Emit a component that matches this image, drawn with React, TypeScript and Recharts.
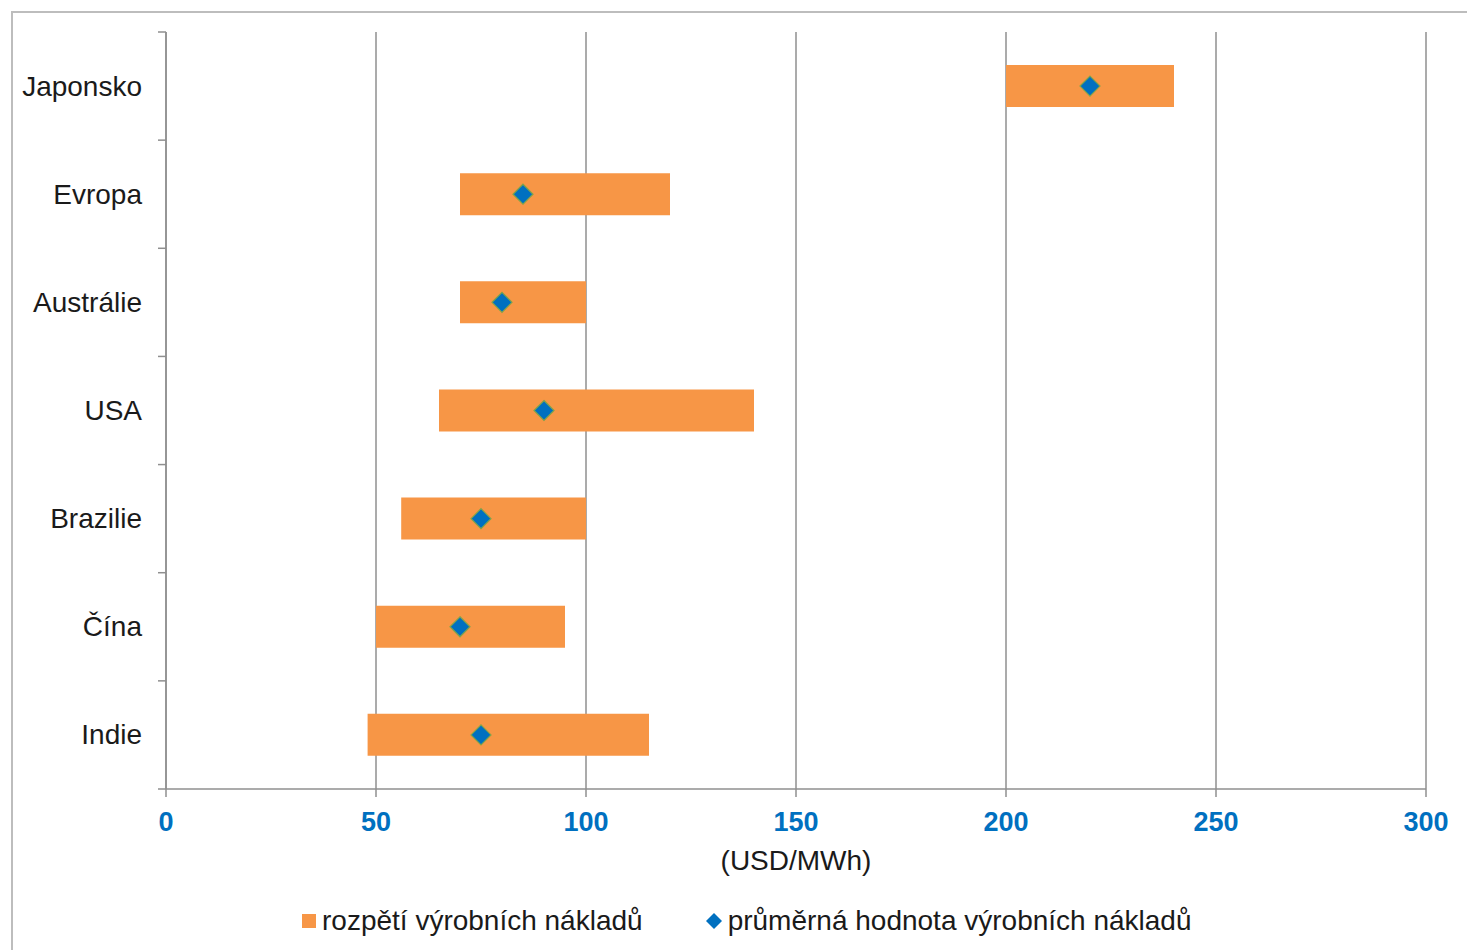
import { ComposedChart, Bar, Line, XAxis, YAxis, CartesianGrid } from 'recharts';

const categories = ['Japonsko', 'Evropa', 'Austrálie', 'USA', 'Brazilie', 'Čína', 'Indie'];
const rangeLow = [200, 70, 70, 65, 56, 50, 48];
const rangeHigh = [240, 120, 100, 140, 100, 95, 115];
const average = [220, 85, 80, 90, 75, 70, 75];
const xTicks = [0, 50, 100, 150, 200, 250, 300];

const rangeName = 'rozpětí výrobních nákladů';
const avgName = 'průměrná hodnota výrobních nákladů';

const ORANGE = '#F79646';
const BLUE = '#0070C0';
const GRID = '#8f8f8f';
const FONT = '"Liberation Sans", Arial, sans-serif';

const CHART_W = 1456;
const CHART_H = 939;
const MARGIN = { top: 21, right: 41, bottom: 77, left: 0 };
const X_AXIS_H = 84;
const PLOT_H = CHART_H - MARGIN.top - MARGIN.bottom - X_AXIS_H;
const BAND = PLOT_H / categories.length;

const data = categories.map((name, i) => ({
  name,
  range: [rangeLow[i], rangeHigh[i]],
  avg: average[i],
}));

// category label plus Excel-style tick marks on the band boundaries
function CategoryTick(props: any) {
  const { x, y, payload, index } = props;
  return (
    <g>
      <text
        x={x - 24}
        y={y}
        textAnchor="end"
        dominantBaseline="central"
        fontSize={28}
        fontFamily={FONT}
        fill="#1a1a1a"
      >
        {payload.value}
      </text>
      <line x1={x - 8} x2={x} y1={y - BAND / 2} y2={y - BAND / 2} stroke={GRID} strokeWidth={1.5} />
      {index === categories.length - 1 && (
        <line x1={x - 8} x2={x} y1={y + BAND / 2} y2={y + BAND / 2} stroke={GRID} strokeWidth={1.5} />
      )}
    </g>
  );
}

function Diamond(props: any) {
  const { cx, cy, index } = props;
  if (cx == null || cy == null) return <g key={`d-${index}`} />;
  const r = 10;
  return (
    <polygon
      key={`d-${index}`}
      points={`${cx},${cy - r} ${cx + r},${cy} ${cx},${cy + r} ${cx - r},${cy}`}
      fill={BLUE}
      stroke="#7fa34a"
      strokeWidth={1.2}
    />
  );
}

export default function App() {
  return (
    <div
      style={{
        position: 'fixed',
        left: 11,
        top: 11,
        width: CHART_W,
        height: CHART_H,
        borderTop: '2px solid #bdbdbd',
        borderLeft: '2px solid #bdbdbd',
        boxSizing: 'border-box',
        background: '#fff',
      }}
    >
      <div style={{ position: 'absolute', left: -2, top: -2 }}>
        <ComposedChart width={CHART_W} height={CHART_H} data={data} layout="vertical" margin={MARGIN}>
          <CartesianGrid horizontal={false} vertical={true} stroke={GRID} strokeWidth={1.5} />
          <XAxis
            type="number"
            domain={[0, 300]}
            ticks={xTicks}
            interval={0}
            height={X_AXIS_H}
            stroke={GRID}
            strokeWidth={1.5}
            tickSize={8}
            tickMargin={15}
            tick={{ fill: BLUE, fontSize: 27, fontWeight: 'bold', fontFamily: FONT }}
            label={{
              value: '(USD/MWh)',
              position: 'insideBottom',
              offset: 3,
              fontSize: 28,
              fontFamily: FONT,
              fill: '#1a1a1a',
            }}
          />
          <YAxis
            type="category"
            dataKey="name"
            width={155}
            stroke={GRID}
            strokeWidth={1.5}
            tickLine={false}
            tickSize={0}
            tickMargin={0}
            interval={0}
            tick={<CategoryTick />}
          />
          <Bar dataKey="range" name={rangeName} fill={ORANGE} barSize={42} isAnimationActive={false} />
          <Line
            dataKey="avg"
            name={avgName}
            stroke="none"
            dot={<Diamond />}
            activeDot={false}
            legendType="diamond"
            isAnimationActive={false}
          />
        </ComposedChart>
      </div>

      <div
        style={{
          position: 'absolute',
          left: 289,
          top: 892,
          display: 'flex',
          alignItems: 'center',
          fontFamily: FONT,
          fontSize: 28,
          color: '#1a1a1a',
          whiteSpace: 'nowrap',
        }}
      >
        <span style={{ width: 14, height: 14, background: ORANGE, display: 'inline-block', marginRight: 6 }} />
        <span>{rangeName}</span>
        <svg width={16} height={16} style={{ marginLeft: 63, marginRight: 6 }}>
          <polygon points="8,0 16,8 8,16 0,8" fill={BLUE} />
        </svg>
        <span>{avgName}</span>
      </div>
    </div>
  );
}
